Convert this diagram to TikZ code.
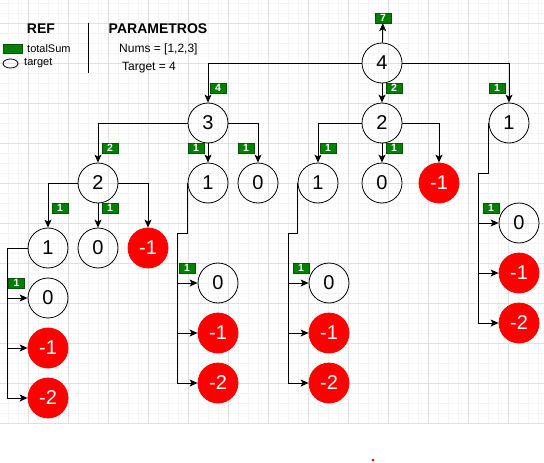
\documentclass[tikz,border=0pt]{standalone}
\usepackage{fontspec}
\setmainfont{Liberation Sans}
\usetikzlibrary{arrows.meta,shapes.geometric}
\definecolor{totfill}{HTML}{008000}
\definecolor{totline}{HTML}{005700}
\definecolor{gridmajor}{HTML}{E0E0E0}
\definecolor{gridminor}{HTML}{F3F3F3}

\begin{document}
\begin{tikzpicture}[x=1pt,y=-1pt,
	st/.style={draw,circle,minimum size=40pt,inner sep=0pt,line width=0.8pt,font=\fontsize{20}{20}\selectfont},
	neg/.style={st,draw=red,fill=red,text=white},
	tot/.style={draw=totline,fill=totfill,text=white,minimum width=16pt,minimum height=10pt,inner sep=0pt,font=\fontsize{10.5}{10}\selectfont\bfseries},
	arr/.style={-{Stealth[length=8pt,width=7pt,inset=2pt]},line width=1pt},
	txt/.style={inner sep=0pt,anchor=west,font=\fontsize{11}{11}\selectfont}]
	\useasboundingbox (0,0) rectangle (544,463);
	% grid
	\foreach \x in {8,18,...,538} \draw[gridminor,line width=0.8pt] (\x,0) -- (\x,423);
	\foreach \y in {3,13,...,413} \draw[gridminor,line width=0.8pt] (0,\y) -- (544,\y);
	\foreach \x in {28,68,...,508} \draw[gridmajor,line width=0.8pt] (\x,0) -- (\x,423);
	\foreach \y in {23,63,...,423} \draw[gridmajor,line width=0.8pt] (0,\y) -- (544,\y);
	% legend
	\node[font=\fontsize{14}{14}\selectfont\bfseries] (ref) at (41,29){REF};
	\node[font=\fontsize{14}{14}\selectfont\bfseries] (par) at (158,29){PARAMETROS};
	\node[draw=totline,fill=totfill,minimum width=19pt,minimum height=9pt,inner sep=0pt] (lgtot) at (12.5,48.5){};
	\node[txt] (lgtottxt) at (27,49){totalSum};
	\node[draw,ellipse,minimum width=15pt,minimum height=9pt,inner sep=0pt,line width=0.8pt] (lgtar) at (10.5,63.5){};
	\node[txt] (lgtartxt) at (24,63){target};
	\coordinate (sepa) at (88,23);
	\coordinate (sepb) at (88,73);
	\draw[line width=1pt] (sepa) -- (sepb);
	\node[txt,font=\fontsize{12}{12}\selectfont] (nums) at (119,49){Nums = [1,2,3]};
	\node[txt,font=\fontsize{12}{12}\selectfont] (targ) at (122,68){Target = 4};
	% tree
	\node[st] (r4) at (382,63){4};
	\node[tot] (t7) at (383,18){7};
	\node[st] (b3) at (208,123){3};
	\node[st] (b2) at (382,123){2};
	\node[st] (b1) at (509,123){1};
	\node[st] (c2) at (98,183){2};
	\node[st] (c1) at (208,183){1};
	\node[st] (c0) at (258,183){0};
	\node[st] (d1) at (318,183){1};
	\node[st] (d0) at (382,183){0};
	\node[neg] (dm1) at (439,183){-1};
	\node[st] (e1) at (48,248){1};
	\node[st] (e0) at (98,248){0};
	\node[neg] (em1) at (148,248){-1};
	\node[st] (f0) at (48,298){0};
	\node[neg] (fm1) at (48,348){-1};
	\node[neg] (fm2) at (48,398){-2};
	\node[st] (g0) at (218,283){0};
	\node[neg] (gm1) at (218,333){-1};
	\node[neg] (gm2) at (218,383){-2};
	\node[st] (h0) at (329,283){0};
	\node[neg] (hm1) at (329,333){-1};
	\node[neg] (hm2) at (329,383){-2};
	\node[st] (k0) at (519,223){0};
	\node[neg] (km1) at (519,273){-1};
	\node[neg] (km2) at (519,323){-2};
	% connectors
	\draw[arr] (r4) -- (t7);
	\draw[arr] (r4.west) -| (b3);
	\draw[arr] (r4) -- (b2);
	\draw[arr] (r4.east) -| (b1);
	\draw[arr] (b3.west) -| (c2);
	\draw[arr] (b3) -- (c1);
	\draw[arr] (b3.east) -| (c0);
	\draw[arr] (b2.west) -| (d1);
	\draw[arr] (b2) -- (d0);
	\draw[arr] (b2.east) -| (dm1);
	\draw[arr] (c2.west) -| (e1);
	\draw[arr] (c2) -- (e0);
	\draw[arr] (c2.east) -| (em1);
	\foreach \n in {f0,fm1,fm2} \draw[arr] (e1.west) -- ++(-20,0) |- (\n);
	\foreach \n in {g0,gm1,gm2} \draw[arr] (c1.west) -- ++(0,50) -- ++(-10,0) |- (\n);
	\foreach \n in {h0,hm1,hm2} \draw[arr] (d1.west) -- ++(0,50) -- ++(-9,0) |- (\n);
	\foreach \n in {k0,km1,km2} \draw[arr] (b1.west) -- ++(0,50) -- ++(-10,0) |- (\n);
	% totalSum labels
	\node[tot] (l34) at (218,88){4};
	\node[tot] (l22) at (394,88){2};
	\node[tot] (l11) at (497,88){1};
	\node[tot] (lc2) at (110,148){2};
	\node[tot] (lc1) at (196,148){1};
	\node[tot] (lc0) at (246,148){1};
	\node[tot] (ld1) at (328,148){1};
	\node[tot] (ld0) at (394,148){1};
	\node[tot] (le1) at (60,208){1};
	\node[tot] (le0) at (110,208){1};
	\node[tot] (lf) at (16.5,283){1};
	\node[tot] (lg) at (187,268){1};
	\node[tot] (lh) at (301,268){1};
	\node[tot] (lk) at (491,208){1};
	% stray dot
	\node[circle,fill=red,minimum size=3pt,inner sep=0pt] (dot) at (373,460){};
\end{tikzpicture}
\end{document}
